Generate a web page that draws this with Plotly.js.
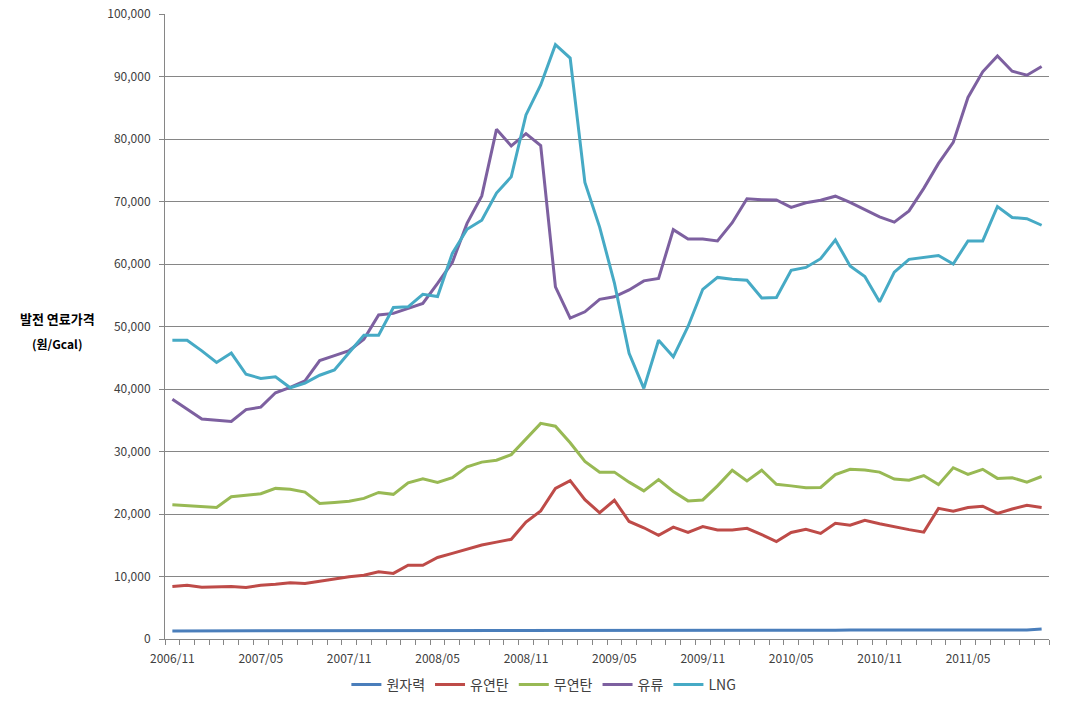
<!DOCTYPE html>
<html>
<head>
<meta charset="utf-8">
<script src="https://cdn.plot.ly/plotly-3.0.1.min.js"></script>
<style>
html,body{margin:0;padding:0;background:#fff;}
#chart{width:1077px;height:704px;}
</style>
</head>
<body>
<div id="chart"></div>
<script>
const months = [
  "2006/11","2006/12","2007/01","2007/02","2007/03","2007/04","2007/05","2007/06","2007/07","2007/08","2007/09","2007/10",
  "2007/11","2007/12","2008/01","2008/02","2008/03","2008/04","2008/05","2008/06","2008/07","2008/08","2008/09","2008/10",
  "2008/11","2008/12","2009/01","2009/02","2009/03","2009/04","2009/05","2009/06","2009/07","2009/08","2009/09","2009/10",
  "2009/11","2009/12","2010/01","2010/02","2010/03","2010/04","2010/05","2010/06","2010/07","2010/08","2010/09","2010/10",
  "2010/11","2010/12","2011/01","2011/02","2011/03","2011/04","2011/05","2011/06","2011/07","2011/08","2011/09","2011/10"
];
const tickLabels = ["2006/11","2007/05","2007/11","2008/05","2008/11","2009/05","2009/11","2010/05","2010/11","2011/05"];

const nuclear = [
  1300,1300,1300,1300,1300,1300,1300,1300,1300,1300,1300,1300,
  1300,1300,1300,1300,1300,1300,1300,1300,1300,1300,1300,1300,
  1300,1300,1300,1300,1300,1300,1300,1300,1300,1300,1300,1300,
  1300,1300,1300,1300,1300,1300,1300,1300,1300,1400,1450,1450,
  1450,1450,1450,1450,1450,1450,1450,1450,1450,1450,1450,1600
];
const bituminous = [
  8400,8600,8300,8400,8400,8250,8600,8750,9000,8900,9250,9650,
  9950,10200,10750,10500,11800,11800,13050,13700,14400,15050,15500,15950,
  18700,20500,24100,25350,22300,20200,22200,18800,17800,16600,17900,17050,
  18000,17450,17450,17700,16700,15600,17050,17550,16900,18500,18200,19000,
  18450,17950,17500,17100,20900,20450,21050,21250,20100,20800,21400,21050
];
const anthracite = [
  21500,21350,21200,21050,22750,22950,23250,24100,23950,23500,21700,21850,
  22050,22500,23450,23150,25000,25650,25050,25800,27550,28300,28600,29500,
  31950,34500,34050,31400,28400,26700,26700,25100,23700,25500,23600,22100,
  22250,24500,27000,25300,27000,24750,24500,24200,24250,26300,27150,27050,
  26700,25600,25400,26150,24700,27400,26350,27150,25700,25800,25100,26000
];
const oil = [
  38350,36750,35200,35000,34800,36700,37100,39400,40250,41300,44550,45350,
  46150,47950,51850,52100,52850,53700,56900,60250,66500,70900,81550,78900,
  80850,78950,56350,51350,52350,54350,54750,55850,57300,57700,65500,64000,
  64000,63700,66600,70450,70300,70250,69050,69800,70200,70850,69850,68750,
  67550,66700,68500,72100,76100,79450,86650,90750,93300,90850,90200,91600
];
const lng = [
  47800,47800,46100,44250,45750,42350,41700,41950,40200,40950,42200,43050,
  45850,48600,48600,53050,53150,55150,54800,61700,65550,67000,71350,73950,
  83850,88650,95100,92950,73050,65900,57000,45700,40100,47800,45150,50000,
  55950,57850,57550,57400,54550,54650,59000,59450,60850,63850,59700,58000,
  53950,58700,60750,61050,61350,60000,63700,63700,69200,67450,67250,66200
];

const xIdx = months.map((m, i) => i);
const tickIdx = tickLabels.map(t => months.indexOf(t));
const boundaries = months.map((m, i) => i - 0.5).concat([months.length - 0.5]);

const seriesNames = ["원자력","유연탄","무연탄","유류","LNG"];
const seriesData = [nuclear, bituminous, anthracite, oil, lng];
const colors = ["#4A7EBB","#BE4B48","#98B954","#7D60A0","#46AAC5"];

const traces = seriesData.map((d, k) => ({
  type: "scatter",
  mode: "lines",
  name: seriesNames[k],
  x: xIdx,
  y: d,
  line: {color: colors[k], width: 3},
  hoverinfo: "skip"
}));

const gridGray = "#868686";
const layout = {
  width: 1077,
  height: 704,
  paper_bgcolor: "#ffffff",
  plot_bgcolor: "#ffffff",
  font: {family: "'Noto Sans CJK KR', 'DejaVu Sans', sans-serif", size: 12, color: "#404040"},
  margin: {l: 165, r: 28, t: 14, b: 65},
  showlegend: true,
  legend: {
    orientation: "h",
    xref: "container", yref: "container",
    x: 0.505, xanchor: "center",
    y: 0.027, yanchor: "middle",
    font: {size: 14, color: "#404040"},
    itemwidth: 30,
    traceorder: "normal"
  },
  xaxis: {
    type: "linear",
    range: [-0.5, months.length - 0.5],
    tickmode: "array",
    tickvals: tickIdx,
    ticktext: tickLabels,
    ticks: "",
    ticklabelstandoff: 9,
    showgrid: false,
    zeroline: false,
    showline: true,
    linecolor: gridGray,
    linewidth: 1,
    tickfont: {size: 12, color: "#404040"},
    minor: {
      tickmode: "array",
      tickvals: boundaries,
      ticks: "outside",
      ticklen: 5,
      tickcolor: gridGray,
      tickwidth: 1,
      showgrid: false
    }
  },
  yaxis: {
    range: [0, 100000],
    tickmode: "linear",
    tick0: 0,
    dtick: 10000,
    tickformat: ",d",
    ticks: "outside",
    ticklen: 5,
    ticklabelstandoff: 6,
    tickcolor: gridGray,
    showgrid: true,
    gridcolor: gridGray,
    gridwidth: 1,
    zeroline: false,
    showline: true,
    linecolor: gridGray,
    linewidth: 1,
    tickfont: {size: 12, color: "#404040"}
  },
  annotations: [
    {text: "<b>발전 연료가격</b>", xref: "paper", yref: "paper", x: -0.122, y: 0.5136,
     xanchor: "center", yanchor: "middle", showarrow: false, font: {size: 13, color: "#000000"}},
    {text: "<b>(원/Gcal)</b>", xref: "paper", yref: "paper", x: -0.122, y: 0.4736,
     xanchor: "center", yanchor: "middle", showarrow: false, font: {size: 12, color: "#000000"}}
  ]
};

Plotly.newPlot("chart", traces, layout, {displayModeBar: false, staticPlot: true});
</script>
</body>
</html>
